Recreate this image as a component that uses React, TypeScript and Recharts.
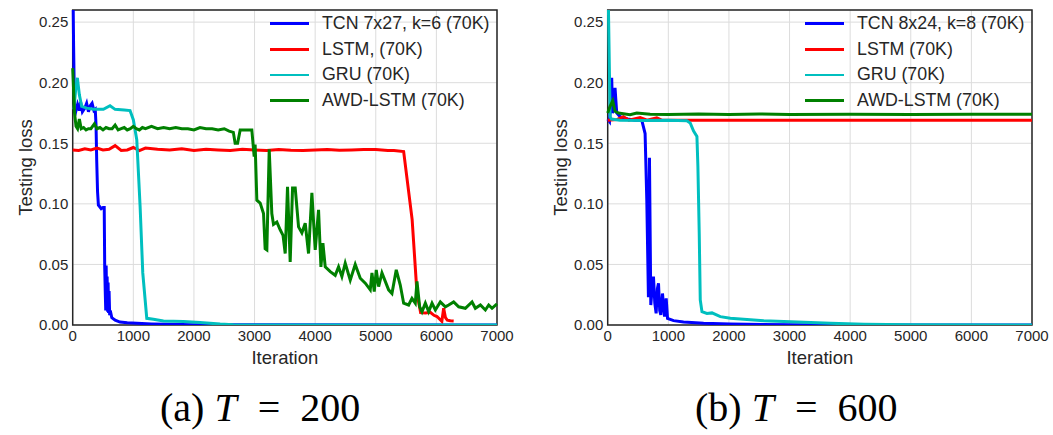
import { LineChart, Line, XAxis, YAxis, CartesianGrid, Legend, ReferenceArea, Label } from 'recharts';

type Pt = [number, number];

const iterTicks = [0, 1000, 2000, 3000, 4000, 5000, 6000, 7000];
const lossTicks = [0, 0.05, 0.1, 0.15, 0.2, 0.25];
const colors = ['#0000ff', '#ff0000', '#00bfbf', '#008000'];

const namesA = ['TCN 7x27, k=6 (70K)', 'LSTM, (70K)', 'GRU (70K)', 'AWD-LSTM (70K)'];
const namesB = ['TCN 8x24, k=8 (70K)', 'LSTM (70K)', 'GRU (70K)', 'AWD-LSTM (70K)'];

// (a) T = 200
const tcnA: Pt[] = [
    [0, 0.3], [15, 0.23], [30, 0.178], [50, 0.176], [80, 0.182], [110, 0.177], [130, 0.184], [160, 0.176],
    [200, 0.179], [230, 0.183], [260, 0.176], [290, 0.181], [320, 0.183], [350, 0.177], [372, 0.178],
    [385, 0.165], [396, 0.136], [410, 0.11], [424, 0.099], [440, 0.098], [470, 0.096], [500, 0.097],
    [520, 0.097], [528, 0.048], [536, 0.03], [545, 0.012], [552, 0.049], [560, 0.015], [568, 0.04],
    [576, 0.011], [584, 0.035], [592, 0.01], [600, 0.028], [610, 0.008], [620, 0.012], [645, 0.006],
    [700, 0.004], [780, 0.0024], [900, 0.0018], [1060, 0.0014], [1300, 0.0009], [1600, 0.0006],
    [2000, 0.0003], [7000, 0],
];
const lstmA: Pt[] = [
    [0, 0.1445], [100, 0.144], [200, 0.1455], [300, 0.1445], [400, 0.146], [500, 0.1445], [600, 0.145],
    [700, 0.148], [800, 0.144], [900, 0.1445], [1000, 0.1465], [1100, 0.144], [1200, 0.146], [1400, 0.145],
    [1600, 0.1445], [1800, 0.1455], [2000, 0.144], [2200, 0.145], [2400, 0.1445], [2600, 0.144],
    [2800, 0.145], [3000, 0.1445], [3200, 0.144], [3400, 0.1448], [3600, 0.1442], [3800, 0.144],
    [4000, 0.1445], [4200, 0.1448], [4400, 0.1442], [4600, 0.1445], [4800, 0.1448], [5000, 0.1448],
    [5200, 0.144], [5300, 0.144], [5460, 0.1432], [5600, 0.087], [5680, 0.0262], [5740, 0.0102],
    [5820, 0.01], [5900, 0.0105], [5960, 0.008], [6010, 0.007], [6060, 0.0045], [6090, 0.003],
    [6120, 0.0138], [6150, 0.006], [6180, 0.004], [6230, 0.0035], [6285, 0.0033],
];
const gruA: Pt[] = [
    [20, 0.178], [50, 0.195], [77, 0.204], [110, 0.19], [148, 0.1805], [231, 0.179], [350, 0.178],
    [506, 0.178], [616, 0.181], [700, 0.178], [850, 0.1775], [946, 0.177], [1000, 0.1695], [1057, 0.153],
    [1112, 0.098], [1156, 0.043], [1222, 0.0055], [1332, 0.0047], [1497, 0.0033], [1827, 0.0028],
    [2100, 0.002], [2432, 0.0008], [2650, 0.0003], [3000, 0.0001], [7000, 0],
];
const awdA: Pt[] = [
    [0, 0.212], [30, 0.175], [55, 0.164], [80, 0.162], [110, 0.17], [140, 0.162], [180, 0.163], [220, 0.161],
    [260, 0.162], [300, 0.162], [358, 0.166], [400, 0.162], [450, 0.163], [500, 0.161], [550, 0.163],
    [600, 0.162], [650, 0.162], [700, 0.165], [750, 0.161], [800, 0.162], [850, 0.163], [900, 0.161],
    [950, 0.162], [1000, 0.164], [1050, 0.162], [1100, 0.161], [1150, 0.163], [1200, 0.162], [1300, 0.164],
    [1400, 0.162], [1500, 0.163], [1600, 0.162], [1700, 0.163], [1800, 0.162], [1900, 0.162], [2000, 0.161],
    [2100, 0.163], [2200, 0.162], [2300, 0.162], [2400, 0.161], [2500, 0.162], [2580, 0.16], [2650, 0.159],
    [2680, 0.15], [2720, 0.15], [2763, 0.161], [2850, 0.161], [2955, 0.161], [2994, 0.139], [3010, 0.149],
    [3038, 0.103], [3093, 0.1006], [3148, 0.092], [3175, 0.063], [3203, 0.062], [3242, 0.145], [3285, 0.092],
    [3313, 0.083], [3368, 0.085], [3423, 0.0786], [3470, 0.074], [3506, 0.059], [3544, 0.114], [3588, 0.052],
    [3627, 0.113], [3671, 0.113], [3726, 0.081], [3781, 0.076], [3836, 0.084], [3891, 0.059], [3946, 0.109],
    [4001, 0.062], [4056, 0.095], [4095, 0.048], [4128, 0.0675], [4166, 0.048], [4249, 0.044], [4331, 0.041],
    [4386, 0.048], [4441, 0.04], [4496, 0.051], [4579, 0.037], [4661, 0.05], [4744, 0.0386], [4827, 0.0345],
    [4909, 0.029], [4937, 0.043], [4975, 0.0276], [5008, 0.0455], [5047, 0.0317], [5102, 0.043], [5157, 0.036],
    [5212, 0.029], [5267, 0.026], [5338, 0.0455], [5404, 0.033], [5460, 0.018], [5542, 0.0165], [5597, 0.022],
    [5652, 0.018], [5680, 0.036], [5724, 0.015], [5763, 0.011], [5818, 0.018], [5873, 0.011], [5928, 0.018],
    [5983, 0.0124], [6065, 0.019], [6148, 0.015], [6203, 0.0165], [6285, 0.019], [6368, 0.015], [6478, 0.0138],
    [6588, 0.019], [6643, 0.0138], [6726, 0.0165], [6808, 0.0124], [6863, 0.0165], [6918, 0.0138], [7000, 0.0174],
];

// (b) T = 600
const tcnB: Pt[] = [
    [0, 0.17], [30, 0.168], [50, 0.185], [66, 0.204], [80, 0.175], [100, 0.178], [121, 0.1957], [149, 0.175],
    [204, 0.172], [260, 0.171], [330, 0.17], [450, 0.169], [562, 0.169], [617, 0.158], [645, 0.103],
    [672, 0.023], [689, 0.138], [711, 0.0165], [733, 0.03], [755, 0.04], [777, 0.018], [799, 0.0096],
    [820, 0.03], [838, 0.0345], [858, 0.012], [876, 0.0083], [904, 0.026], [937, 0.0069], [965, 0.022],
    [987, 0.0055], [1086, 0.0036], [1251, 0.0025], [1582, 0.0014], [2023, 0.0008], [3126, 0.0002],
    [4000, 0], [7000, 0],
];
const lstmB: Pt[] = [
    [0, 0.169], [150, 0.1695], [259, 0.172], [350, 0.169], [535, 0.1712], [650, 0.169], [810, 0.171],
    [900, 0.169], [1500, 0.169], [3000, 0.169], [5000, 0.169], [7000, 0.169],
];
const gruB: Pt[] = [
    [0, 0.3], [40, 0.172], [60, 0.17], [200, 0.169], [600, 0.1688], [1000, 0.169], [1306, 0.1685],
    [1361, 0.1667], [1417, 0.16], [1472, 0.1557], [1488, 0.131], [1510, 0.0758], [1527, 0.0207],
    [1555, 0.011], [1637, 0.0096], [1720, 0.01], [1858, 0.0069], [2023, 0.0055], [2574, 0.0036],
    [3126, 0.0025], [3677, 0.0014], [4228, 0.0006], [5000, 0.0002], [7000, 0],
];
const awdB: Pt[] = [
    [0, 0.175], [39, 0.1805], [83, 0.185], [121, 0.1764], [176, 0.175], [369, 0.1736], [480, 0.175],
    [700, 0.174], [1000, 0.1738], [1500, 0.1742], [2000, 0.1738], [2500, 0.1742], [3000, 0.1738],
    [4000, 0.174], [5000, 0.1738], [6000, 0.174], [7000, 0.174],
];

const toRows = (pts: Pt[]) => pts.map(([x, y]) => ({x, y}));

const sans = '"Liberation Sans", Arial, sans-serif';
const serif = '"Liberation Serif", "Times New Roman", serif';
const tickStyle = {fill: '#262626', fontSize: 15, fontFamily: sans};

const YTitle = (props: any) => {
    const {x, y, width, height} = props.viewBox;
    const cx = x + width - 47.7;
    const cy = y + height / 2;
    return (
        <text x={cx} y={cy} transform={`rotate(-90, ${cx}, ${cy})`} textAnchor='middle' dominantBaseline='central'
            fill='#262626' fontSize={18.5} fontFamily={sans}>Testing loss</text>
    );
};

const XTitle = (props: any) => {
    const {x, y, width} = props.viewBox;
    return (
        <text x={x + width / 2} y={y + 32} textAnchor='middle' dominantBaseline='central'
            fill='#262626' fontSize={18.5} fontFamily={sans}>Iteration</text>
    );
};

// legend keeps the plotting order, not the alphabetical one
const LegendBox = ({payload, names}: any) => {
    const items = names.map((n: string) => (payload || []).find((p: any) => p.value === n)).filter(Boolean);
    return (
        <div style={{fontFamily: sans, fontSize: 17.8, color: '#262626'}}>
            {items.map((p: any) => (
                <div key={p.value} style={{display: 'flex', alignItems: 'center', height: 25.8, whiteSpace: 'nowrap'}}>
                    <span style={{display: 'inline-block', width: 39, height: 2.8, background: p.color, marginRight: 13}} />
                    <span>{p.value}</span>
                </div>
            ))}
        </div>
    );
};

const Panel = ({left, names, series, label, value}: {left: number; names: string[]; series: Pt[][]; label: string; value: string}) => (
    <div style={{position: 'absolute', left, top: 0, width: 520, height: 435}}>
        <LineChart width={520} height={370} margin={{top: 10, right: 23, bottom: 0, left: 12.7}}>
            <CartesianGrid stroke='#dcdcdc' strokeWidth={1} />
            <XAxis type='number' dataKey='x' domain={[0, 7000]} ticks={iterTicks} height={45}
                tick={tickStyle} tickLine={false} axisLine={false} tickSize={0} tickMargin={5}>
                <Label content={XTitle} />
            </XAxis>
            <YAxis type='number' domain={[0, 0.26]} ticks={lossTicks} width={60} allowDataOverflow
                tick={tickStyle} tickLine={false} axisLine={false} tickSize={0} tickMargin={4.4}
                tickFormatter={(v: number) => v.toFixed(2)}>
                <Label content={YTitle} />
            </YAxis>
            <ReferenceArea x1={0} x2={7000} y1={0} y2={0.26} fill='none' stroke='#262626' strokeWidth={1.5} />
            {series.map((s, i) => (
                <Line key={names[i]} data={toRows(s)} dataKey='y' name={names[i]} stroke={colors[i]}
                    strokeWidth={3} dot={false} isAnimationActive={false} type='linear' />
            ))}
            <Legend layout='vertical' align='center' verticalAlign='middle' content={<LegendBox names={names} />}
                wrapperStyle={{position: 'absolute', left: 270, top: 10.5, width: 240}} />
        </LineChart>
        <div style={{position: 'absolute', left: 160, top: 391, fontFamily: serif, fontSize: 40,
            lineHeight: '34px', whiteSpace: 'nowrap', color: '#000'}}>
            <span>{label}</span>
            <span style={{fontStyle: 'italic', marginLeft: 10}}>T</span>
            <span style={{marginLeft: 21}}>=</span>
            <span style={{marginLeft: 20}}>{value}</span>
        </div>
    </div>
);

const App = () => (
    <div style={{position: 'absolute', left: 0, top: 0, width: 1053, height: 435, background: '#fff'}}>
        <Panel left={0} names={namesA} series={[tcnA, lstmA, gruA, awdA]} label='(a)' value='200' />
        <Panel left={535} names={namesB} series={[tcnB, lstmB, gruB, awdB]} label='(b)' value='600' />
    </div>
);

export default App;
